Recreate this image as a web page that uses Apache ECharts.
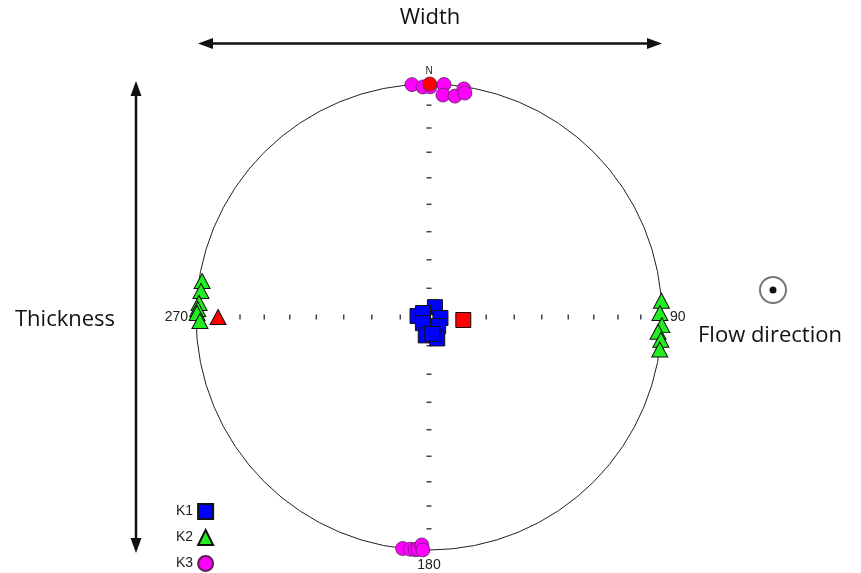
<!DOCTYPE html>
<html>
<head>
<meta charset="utf-8">
<script src="https://cdn.jsdelivr.net/npm/echarts@6/dist/echarts.min.js"></script>
<style>
  html, body { margin: 0; padding: 0; background: #fff; }
  #chart { width: 861px; height: 573px; }
</style>
</head>
<body>
<div id="chart"></div>
<script>
// AMS principal axes as [trend°, plunge°], plotted on a lower-hemisphere equal-area net
const k1 = [[31, 86], [275, 86], [304, 87.5], [95, 86], [225, 87], [135, 85.5], [190, 83.5], [159, 82], [169, 84]];
const k1Mean = [95, 78];

const k2 = [[279, 1.6], [276.5, 1.7], [273.5, 1.3], [272, 0.8], [271, 0.5], [269, 1.9],
            [86, 0], [89, 1], [92, 0], [93.7, 1.7], [95.6, 0], [98, 0]];
const k2Mean = [270, 10.4];

const k3 = [[355.8, 0], [358.5, 1.4], [0.3, 1.4], [3.7, 0], [3.6, 5.1], [6.7, 5.1], [8.7, 1.1], [9.1, 3],
            [186.5, 0], [184.6, 0], [183.4, 0], [182.7, 0.2], [181.8, 2.4], [181.5, 0]];
const k3Mean = [0.2, 0];

// plunge ticks along the four cardinal diameters
const tickPlunges = [10, 20, 30, 40, 50, 60, 70, 80];
const cardinalLabels = { 0: 'N', 90: '90', 180: '180', 270: '270' };

// Schmidt net: distance from centre on a unit primitive circle
function project(tp) {
  const trend = tp[0], plunge = tp[1];
  const r = Math.SQRT2 * Math.sin((90 - plunge) / 2 * Math.PI / 180);
  return [r, trend];
}

function withMean(points, mean) {
  const data = points.map(project);
  data.push({ value: project(mean), itemStyle: { color: '#ff0000' } });
  return data;
}

function ticksAlong(trends) {
  const out = [];
  trends.forEach(t => tickPlunges.forEach(p => out.push(project([t, p]))));
  return out;
}

const chart = echarts.init(document.getElementById('chart'), null, { renderer: 'canvas' });

chart.setOption({
  animation: false,
  backgroundColor: '#ffffff',
  polar: { center: [429, 317], radius: 233 },
  angleAxis: {
    type: 'value', min: 0, max: 360, interval: 90,
    startAngle: 90, clockwise: true,
    axisLine: { show: true, lineStyle: { color: '#222', width: 1 } },
    axisTick: { show: false },
    splitLine: { show: false },
    axisLabel: {
      show: true, margin: 8,
      fontFamily: 'Liberation Sans', fontSize: 14, color: '#222',
      formatter: v => v === 0 ? '{n|N}' : (cardinalLabels[v] || ''),
      rich: { n: { fontFamily: 'Liberation Sans', fontSize: 10, color: '#222' } }
    }
  },
  radiusAxis: {
    type: 'value', min: 0, max: 1,
    axisLine: { show: false }, axisTick: { show: false },
    axisLabel: { show: false }, splitLine: { show: false }
  },
  legend: {
    data: ['K1', 'K2', 'K3'],
    orient: 'vertical', left: 176, top: 503, padding: 0,
    align: 'right',
    itemWidth: 15, itemHeight: 15, itemGap: 9,
    selectedMode: false,
    textStyle: { fontFamily: 'Liberation Sans', fontSize: 14, color: '#222' }
  },
  series: [
    {
      type: 'scatter', coordinateSystem: 'polar', silent: true,
      symbol: 'rect', symbolSize: [1.5, 5],
      itemStyle: { color: '#444', opacity: 1 },
      data: ticksAlong([90, 270])
    },
    {
      type: 'scatter', coordinateSystem: 'polar', silent: true,
      symbol: 'rect', symbolSize: [5, 1.5],
      itemStyle: { color: '#444', opacity: 1 },
      data: ticksAlong([0, 180])
    },
    {
      name: 'K2', type: 'scatter', coordinateSystem: 'polar',
      symbol: 'triangle', symbolSize: [16, 15],
      itemStyle: { color: '#22ee22', borderColor: '#111', borderWidth: 1, opacity: 1 },
      data: withMean(k2, k2Mean)
    },
    {
      name: 'K3', type: 'scatter', coordinateSystem: 'polar',
      symbol: 'circle', symbolSize: 14,
      itemStyle: { color: '#ff00ff', borderColor: '#552255', borderWidth: 0.8, opacity: 1 },
      data: withMean(k3, k3Mean)
    },
    {
      name: 'K1', type: 'scatter', coordinateSystem: 'polar',
      symbol: 'rect', symbolSize: 15,
      itemStyle: { color: '#0000ff', borderColor: '#111', borderWidth: 1, opacity: 1 },
      data: withMean(k1, k1Mean)
    }
  ],
  graphic: [
    // sill width arrow
    { type: 'line', shape: { x1: 210, y1: 43.5, x2: 650, y2: 43.5 }, style: { stroke: '#111', lineWidth: 2.5 } },
    { type: 'polygon', shape: { points: [[198, 43.5], [213, 38], [213, 49]] }, style: { fill: '#111' } },
    { type: 'polygon', shape: { points: [[662, 43.5], [647, 38], [647, 49]] }, style: { fill: '#111' } },
    { type: 'text', x: 430, y: 18, style: { text: 'Width', fontFamily: 'Open Sans', fontSize: 22, fill: '#111', align: 'center', verticalAlign: 'middle' } },
    // sill thickness arrow
    { type: 'line', shape: { x1: 136, y1: 92, x2: 136, y2: 541 }, style: { stroke: '#111', lineWidth: 2.5 } },
    { type: 'polygon', shape: { points: [[136, 81], [130.5, 96], [141.5, 96]] }, style: { fill: '#111' } },
    { type: 'polygon', shape: { points: [[136, 553], [130.5, 538], [141.5, 538]] }, style: { fill: '#111' } },
    { type: 'text', x: 15, y: 320, style: { text: 'Thickness', fontFamily: 'Open Sans', fontSize: 22, fill: '#111', align: 'left', verticalAlign: 'middle' } },
    // flow out of the page
    { type: 'circle', shape: { cx: 773, cy: 290, r: 13 }, style: { fill: 'none', stroke: '#777', lineWidth: 2 } },
    { type: 'circle', shape: { cx: 773, cy: 290, r: 3.5 }, style: { fill: '#111' } },
    { type: 'text', x: 698, y: 336, style: { text: 'Flow direction', fontFamily: 'Open Sans', fontSize: 22, fill: '#111', align: 'left', verticalAlign: 'middle' } }
  ]
});
</script>
</body>
</html>
